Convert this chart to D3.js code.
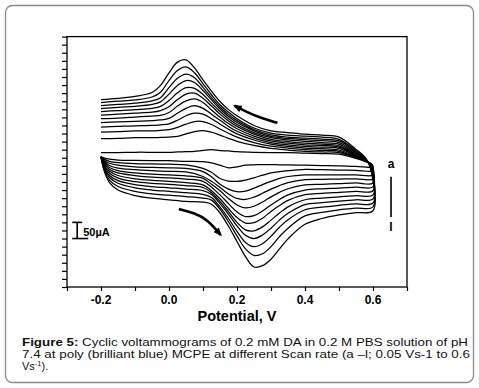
<!DOCTYPE html>
<html>
<head>
<meta charset="utf-8">
<script src="https://cdn.jsdelivr.net/npm/d3@7"></script>
<style>
  html, body { margin: 0; padding: 0; background: #fff; }
  svg { display: block; font-family: "Liberation Sans", Arial, sans-serif; }
</style>
</head>
<body>
<svg id="chart" width="479" height="388"></svg>
<script>
// scan labels a..l (0.05 to 0.6 V/s)
const curveLabels = ["a", "b", "c", "d", "e", "f", "g", "h", "i", "j", "k", "l"];

// potentials (V) for forward scan (-0.2 -> 0.6) and reverse scan (0.6 -> -0.2)
const fwdPotential = [-0.2, -0.19, -0.175, -0.15, -0.1, -0.05, 0, 0.05, 0.1, 0.125, 0.15, 0.175,
  0.2, 0.225, 0.25, 0.275, 0.3, 0.325, 0.35, 0.4, 0.45, 0.5, 0.55, 0.6];
const revPotential = [0.6, 0.595, 0.58, 0.55, 0.5, 0.45, 0.4, 0.35, 0.3, 0.25, 0.2, 0.175,
  0.15, 0.125, 0.1, 0.075, 0.05, 0.025, 0, -0.025, -0.05, -0.1, -0.15, -0.2];

// currents (uA), one row per scan rate
const fwdCurrent = [
  [3, -1, -4, -7, -8, -9, -9, -11, -12, -16, -23, -31, -28, -23, -22, -21, -21, -22, -22, -23, -24, -25, -27, -28],
  [3, -5, -11, -15, -18, -19, -20, -22, -33, -45, -64, -72, -73, -69, -62, -54, -47, -43, -40, -36, -37, -38, -39, -40],
  [3, -9, -17, -23, -28, -30, -31, -33, -43, -59, -82, -97, -105, -103, -94, -83, -73, -64, -58, -53, -53, -53, -53, -53],
  [3, -13, -24, -32, -37, -40, -42, -44, -58, -73, -92, -112, -126, -129, -122, -110, -97, -86, -77, -68, -67, -66, -65, -65],
  [3, -16, -30, -40, -47, -51, -53, -56, -64, -82, -102, -126, -146, -155, -150, -137, -121, -107, -96, -84, -82, -80, -78, -78],
  [3, -20, -36, -47, -55, -60, -62, -66, -73, -91, -115, -142, -168, -182, -179, -165, -146, -129, -115, -100, -96, -94, -91, -90],
  [3, -24, -42, -55, -65, -70, -73, -77, -84, -102, -127, -157, -185, -202, -201, -187, -166, -148, -132, -114, -110, -107, -104, -102],
  [3, -27, -48, -63, -74, -79, -82, -86, -92, -108, -135, -167, -200, -223, -226, -214, -193, -171, -152, -130, -125, -121, -117, -115],
  [3, -31, -55, -71, -83, -89, -93, -97, -102, -114, -142, -175, -211, -240, -250, -239, -218, -193, -172, -145, -139, -134, -130, -127],
  [3, -34, -61, -79, -93, -100, -104, -108, -113, -123, -153, -188, -228, -262, -275, -266, -243, -215, -192, -161, -153, -147, -143, -140],
  [3, -39, -69, -89, -104, -112, -116, -120, -125, -131, -160, -198, -242, -282, -302, -297, -275, -244, -218, -180, -169, -161, -156, -152],
  [3, -43, -77, -100, -117, -125, -130, -135, -137, -144, -171, -212, -259, -306, -338, -334, -314, -282, -251, -206, -188, -177, -170, -164]
];
const revCurrent = [
  [-28, -19, -12, -2, 11, 13, 14, 16, 16, 17, 19, 21, 22, 25, 23, 20, 19, 18, 17, 17, 17, 17, 16, 16],
  [-40, -19, -12, 0, 16, 18, 20, 24, 29, 38, 51, 60, 70, 79, 84, 81, 74, 66, 64, 63, 62, 62, 60, 59],
  [-53, -19, -12, 2, 20, 23, 25, 30, 36, 47, 64, 76, 89, 103, 112, 112, 104, 94, 87, 85, 83, 83, 81, 79],
  [-65, -21, -11, 3, 24, 28, 30, 35, 42, 55, 74, 88, 104, 121, 135, 138, 130, 116, 105, 102, 100, 99, 97, 95],
  [-78, -23, -11, 5, 29, 33, 35, 40, 47, 61, 82, 97, 116, 135, 153, 161, 153, 138, 122, 117, 115, 113, 111, 109],
  [-90, -25, -10, 7, 33, 38, 40, 45, 52, 67, 90, 106, 126, 148, 171, 182, 176, 160, 140, 131, 129, 126, 123, 121],
  [-102, -28, -9, 9, 37, 42, 45, 50, 57, 73, 97, 114, 135, 160, 184, 200, 197, 180, 158, 146, 141, 138, 135, 132],
  [-115, -31, -8, 11, 42, 47, 51, 55, 62, 78, 103, 121, 143, 169, 196, 215, 217, 201, 177, 159, 153, 149, 146, 143],
  [-127, -34, -7, 15, 47, 53, 56, 60, 66, 83, 109, 128, 151, 179, 208, 233, 239, 224, 197, 173, 165, 159, 156, 152],
  [-140, -37, -6, 18, 52, 58, 61, 64, 71, 87, 115, 134, 157, 186, 218, 248, 259, 246, 217, 186, 176, 169, 165, 161],
  [-152, -40, -5, 22, 57, 64, 67, 70, 76, 92, 121, 141, 164, 195, 229, 263, 281, 270, 239, 203, 188, 179, 175, 171],
  [-164, -43, -3, 26, 64, 70, 73, 78, 83, 100, 130, 149, 174, 206, 241, 278, 303, 296, 263, 224, 202, 190, 184, 180]
];

// axes
const xTickValues = [-0.3, -0.2, -0.1, 0, 0.1, 0.2, 0.3, 0.4, 0.5, 0.6, 0.7];
const xTickLabels = ["-0.2", "0.0", "0.2", "0.4", "0.6"];
const xTickLabelValues = [-0.2, 0, 0.2, 0.4, 0.6];
const yTickValues = d3.range(-400, 376, 25);

// scan direction arrows (V, uA), tail first
const arrowReverse = [[0.319, 108], [0.275, 121], [0.231, 140], [0.193, 161]];
const arrowForward = [[0.029, -159], [0.076, -171], [0.114, -192], [0.152, -239]];

// 50 uA scale bar
const scaleBarX = -0.27;
const scaleBarRange = [-250, -200];

const svg = d3.select("#chart");

// outer rounded frame
svg.append("rect")
  .attr("x", 5.5).attr("y", 5.5)
  .attr("width", 468).attr("height", 377)
  .attr("rx", 7).attr("ry", 7)
  .attr("fill", "#fff")
  .attr("stroke", "#8a8a8a")
  .attr("stroke-width", 1.3);

const x = d3.scaleLinear().domain([-0.3, 0.7]).range([67, 407]);
const y = d3.scaleLinear().domain([-400, 375]).range([287, 36.6]);

const defs = svg.append("defs");
defs.append("marker")
  .attr("id", "head")
  .attr("markerUnits", "userSpaceOnUse")
  .attr("viewBox", "0 0 10 8")
  .attr("refX", 8).attr("refY", 4)
  .attr("markerWidth", 9).attr("markerHeight", 7)
  .attr("orient", "auto")
  .append("path")
  .attr("d", "M0,0 L10,4 L0,8 Z")
  .attr("fill", "#000");

// cv curves
const line = d3.line()
  .x((d) => x(d[0]))
  .y((d) => y(d[1]))
  .curve(d3.curveCatmullRom.alpha(0.5));

const curves = curveLabels.map((lab, i) => {
  const pts = fwdPotential.map((e, j) => [e, fwdCurrent[i][j]]);
  revPotential.forEach((e, j) => { if (j > 0) pts.push([e, revCurrent[i][j]]); });
  return pts;
});

svg.append("g")
  .selectAll("path")
  .data(curves)
  .enter()
  .append("path")
  .attr("d", line)
  .attr("fill", "none")
  .attr("stroke", "#000")
  .attr("stroke-width", 1.25);

// plot box
svg.append("rect")
  .attr("x", x(-0.3)).attr("y", y(375))
  .attr("width", x(0.7) - x(-0.3))
  .attr("height", y(-400) - y(375))
  .attr("fill", "none")
  .attr("stroke", "#000")
  .attr("stroke-width", 1.3);

// x axis
const xAxis = svg.append("g")
  .attr("transform", `translate(0,${y(-400)})`)
  .call(d3.axisBottom(x).tickValues(xTickValues).tickSize(4).tickFormat(""));
xAxis.select(".domain").remove();
xAxis.selectAll("line").attr("stroke-width", 1.2);

svg.append("g")
  .selectAll("text")
  .data(xTickLabels)
  .enter()
  .append("text")
  .attr("x", (d, i) => x(xTickLabelValues[i]))
  .attr("y", 304)
  .attr("text-anchor", "middle")
  .attr("font-size", 12)
  .attr("font-weight", "bold")
  .text((d) => d);

svg.append("text")
  .attr("x", x(0.2))
  .attr("y", 321)
  .attr("text-anchor", "middle")
  .attr("font-size", 14.5)
  .attr("font-weight", "bold")
  .text("Potential, V");

// y axis (ticks only)
const yAxis = svg.append("g")
  .attr("transform", `translate(${x(-0.3)},0)`)
  .call(d3.axisLeft(y).tickValues(yTickValues).tickSize(5).tickFormat(""));
yAxis.select(".domain").remove();
yAxis.selectAll("line").attr("stroke-width", 1.2);

// scan direction arrows
const arrowLine = d3.line()
  .x((d) => x(d[0]))
  .y((d) => y(d[1]))
  .curve(d3.curveBasis);

svg.selectAll(".arrow")
  .data([arrowReverse, arrowForward])
  .enter()
  .append("path")
  .attr("class", "arrow")
  .attr("d", arrowLine)
  .attr("fill", "none")
  .attr("stroke", "#000")
  .attr("stroke-width", 2.6)
  .attr("marker-end", "url(#head)");

// scale bar
const sb = svg.append("g");
sb.append("line")
  .attr("x1", x(scaleBarX)).attr("x2", x(scaleBarX))
  .attr("y1", y(scaleBarRange[0])).attr("y2", y(scaleBarRange[1]))
  .attr("stroke", "#000").attr("stroke-width", 1.6);
sb.append("line")
  .attr("x1", x(scaleBarX) - 5).attr("x2", x(scaleBarX) + 5)
  .attr("y1", y(scaleBarRange[1])).attr("y2", y(scaleBarRange[1]))
  .attr("stroke", "#000").attr("stroke-width", 1.6);
sb.append("line")
  .attr("x1", x(scaleBarX) - 5).attr("x2", x(scaleBarX) + 11)
  .attr("y1", y(scaleBarRange[0])).attr("y2", y(scaleBarRange[0]))
  .attr("stroke", "#000").attr("stroke-width", 1.6);
sb.append("text")
  .attr("x", x(scaleBarX) + 6)
  .attr("y", y(scaleBarRange[0]) - 3)
  .attr("font-size", 11)
  .attr("font-weight", "bold")
  .text("50\u00b5A");

// a ... l marker
const lab = svg.append("g").attr("font-weight", "bold").attr("font-size", 12)
  .attr("text-anchor", "middle").attr("fill", "#000");
lab.append("text").attr("x", x(0.653)).attr("y", y(-32)).text(curveLabels[0]);
lab.append("line")
  .attr("x1", x(0.653)).attr("x2", x(0.653))
  .attr("y1", y(-59)).attr("y2", y(-183))
  .attr("stroke", "#000").attr("stroke-width", 1.6);
lab.append("text").attr("x", x(0.653)).attr("y", y(-226)).text(curveLabels[11]);

// caption
const cap = svg.append("g").attr("font-size", 11).attr("fill", "#111");
const l1 = cap.append("text").attr("x", 22).attr("y", 345.5)
  .attr("textLength", 446).attr("lengthAdjust", "spacingAndGlyphs");
l1.append("tspan").attr("font-weight", "bold").text("Figure 5:");
l1.append("tspan").text(" Cyclic voltammograms of 0.2 mM DA in 0.2 M PBS solution of pH");
cap.append("text").attr("x", 22).attr("y", 357.5)
  .attr("textLength", 448).attr("lengthAdjust", "spacingAndGlyphs")
  .text("7.4 at poly (brilliant blue) MCPE at different Scan rate (a \u2013l; 0.05 Vs-1 to 0.6");
const l3 = cap.append("text").attr("x", 22).attr("y", 369.5);
l3.append("tspan").text("Vs");
l3.append("tspan").attr("font-size", 7.5).attr("dy", -4).text("-1");
l3.append("tspan").attr("dy", 4).text(").");
</script>
</body>
</html>
